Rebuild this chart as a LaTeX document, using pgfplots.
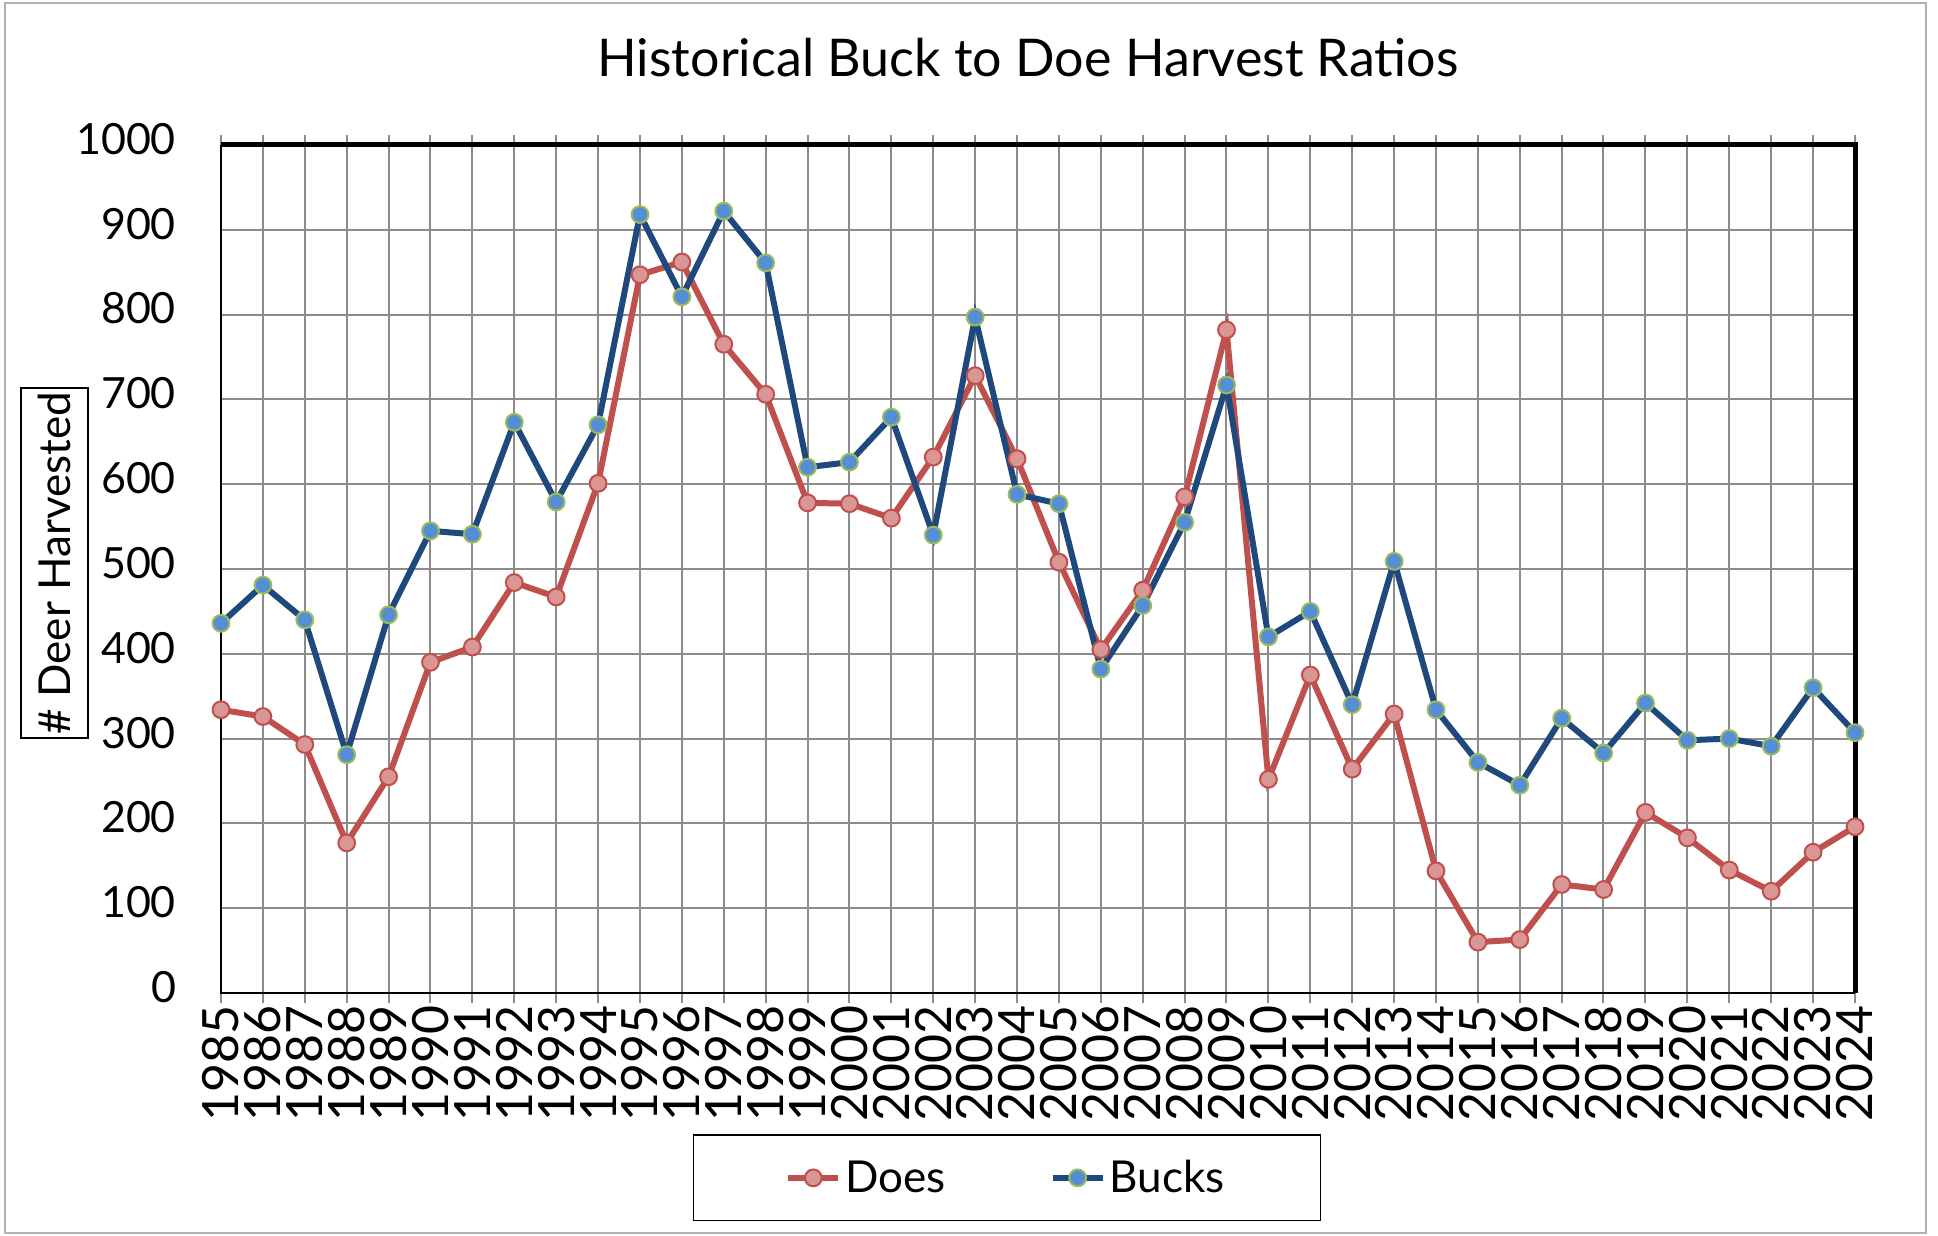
\documentclass[border=0pt]{standalone}
\usepackage{fontspec}
\setmainfont{Lato}
\usepackage{pgfplots}
\usepackage{pgfplotstable}
\pgfplotsset{compat=1.18}

\definecolor{doeline}{HTML}{C0504D}
\definecolor{doefill}{HTML}{D99694}
\definecolor{buckline}{HTML}{1F497D}
\definecolor{buckfill}{HTML}{558ED5}
\definecolor{buckedge}{HTML}{9BBB59}
\definecolor{gridgray}{HTML}{8C8C8C}

% harvest counts
\pgfplotstableread{
year does bucks
1985 334 436
1986 326 481
1987 293 440
1988 177 281
1989 255 446
1990 390 545
1991 408 541
1992 484 673
1993 467 579
1994 601 670
1995 847 918
1996 862 821
1997 765 922
1998 706 861
1999 578 620
2000 577 626
2001 560 679
2002 632 540
2003 728 797
2004 630 588
2005 508 577
2006 405 382
2007 475 457
2008 585 555
2009 782 717
2010 252 420
2011 375 450
2012 264 340
2013 329 509
2014 144 334
2015 60 272
2016 63 245
2017 128 324
2018 122 283
2019 213 342
2020 183 298
2021 145 300
2022 120 291
2023 166 360
2024 196 307
}\harvest

\begin{document}
\begin{tikzpicture}
\path (0,0) rectangle (969pt,618pt);
\draw[gray!60, line width=0.8pt] (2.5pt,1.5pt) rectangle (963pt,616.5pt);
\node[font=\fontsize{26}{30}\selectfont] at (514pt,589pt) {Historical Buck to Doe Harvest Ratios};
\begin{axis}[
    at={(110.5pt,121.5pt)}, anchor=south west,
    width=817pt, height=424pt, scale only axis,
    clip=false,
    xmin=1985, xmax=2024, ymin=0, ymax=1000,
    xtick={1985,...,2024}, ytick={0,100,...,1000},
    /pgf/number format/1000 sep={},
    /pgf/number format/assume math mode=true,
    grid=major, grid style={gridgray, line width=1pt},
    axis line style={draw=none},
    tick align=outside, major tick length=5pt,
    xtick style={gridgray, line width=1pt},
    ytick style={draw=none},
    xticklabel style={rotate=90, anchor=east, font=\fontsize{25}{25}\selectfont, inner sep=1pt},
    yticklabel style={font=\fontsize{21.5}{22}\selectfont, xshift=-14pt, yshift=3pt},
    ylabel={\# Deer Harvested},
    ylabel style={draw, line width=0.8pt, font=\fontsize{22}{24}\selectfont,
        at={(axis description cs:-0.102,0.507)}, anchor=center,
        minimum height=33.5pt, inner xsep=2pt},
    legend columns=2,
    legend style={at={(axis description cs:0.481,-0.218)}, anchor=center,
        draw=black, line width=0.8pt, font=\fontsize{22}{24}\selectfont,
        inner xsep=46pt, inner ysep=10.5pt,
        /tikz/every even column/.append style={column sep=50pt}},
    legend image code/.code={\draw[mark repeat=2, mark phase=2, #1]
        plot coordinates {(0pt,0pt) (12.5pt,0pt) (25pt,0pt)};},
]
\addplot[doeline, line width=3pt, mark=*, mark size=4.2pt,
    mark options={fill=doefill, draw=doeline, line width=1pt}]
    table[x=year, y=does] {\harvest};
\addlegendentry{Does}
\addplot[buckline, line width=3pt, mark=*, mark size=4.2pt,
    mark options={fill=buckfill, draw=buckedge, line width=1pt}]
    table[x=year, y=bucks] {\harvest};
\addlegendentry{Bucks}
\draw[black, line width=1.2pt] (rel axis cs:0,1) -- (rel axis cs:0,0) -- (rel axis cs:1,0);
\draw[black, line width=2.5pt] (rel axis cs:0,1) -- (rel axis cs:1,1) -- (rel axis cs:1,0);
\end{axis}
\end{tikzpicture}
\end{document}
